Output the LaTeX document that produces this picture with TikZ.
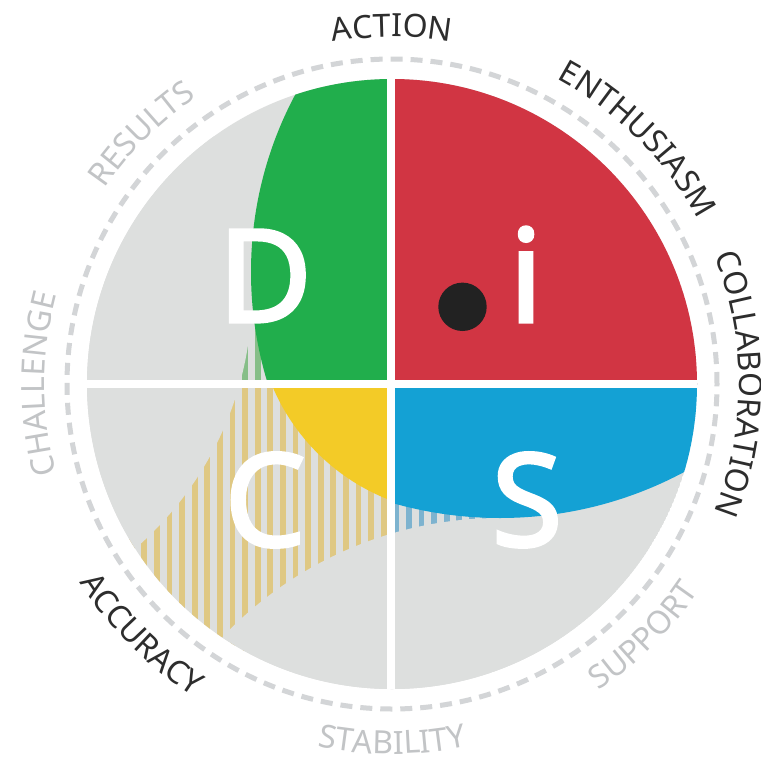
\documentclass[tikz,border=0pt]{standalone}
\usepackage{fontspec}
\setmainfont{Noto Sans}
\newfontfamily\bigfam[FakeBold=2.5]{Noto Sans}
\usetikzlibrary{decorations.text}
\definecolor{diskgray}{HTML}{DDDFDE}
\definecolor{dgreen}{HTML}{21AE4C}
\definecolor{dred}{HTML}{D13543}
\definecolor{dyellow}{HTML}{F3CB27}
\definecolor{dblue}{HTML}{14A1D4}
\definecolor{sgreen}{HTML}{86BE88}
\definecolor{syellow}{HTML}{DFC883}
\definecolor{sblue}{HTML}{7DB3CF}
\definecolor{dashgray}{HTML}{D3D5D7}
\definecolor{lbldark}{HTML}{2D2D2D}
\definecolor{lblgray}{HTML}{C2C4C6}
\definecolor{dotblack}{HTML}{222222}
\newcommand\lblfont{\fontsize{32}{38}\selectfont}
\newcommand\bigletterfont{\bigfam\fontsize{129}{150}\selectfont}
\newcommand\cwlabel[3]{%
  \path[decorate,decoration={text along path,text align=center,text color=#3,
    text format delimiters={|}{|},text={|\lblfont|#2}}]
    (C) ++(#1+60:347pt) arc[start angle=#1+60,end angle=#1-60,radius=347pt];}
\newcommand\ccwlabel[3]{%
  \path[decorate,decoration={text along path,text align=center,text color=#3,
    text format delimiters={|}{|},text={|\lblfont|#2}}]
    (C) ++(#1-60:370pt) arc[start angle=#1-60,end angle=#1+60,radius=370pt];}
\newcommand\stripes[1]{%
  \foreach \k in {0,...,52} {\fill[#1] ({103.5+12.6*\k},0) rectangle ++(5.8,-764);}}
\tikzset{
  bigletter/.style={text=white,font=\bigletterfont,inner sep=0pt,anchor=base},
  divider/.style={draw=white,line width=7.8pt},
}
\begin{document}
\begin{tikzpicture}[x=1pt,y=1pt]
\useasboundingbox (0,0) rectangle (761,-764);
\fill[white] (0,0) rectangle (761,-764);
\coordinate (C) at (392,-384);
% dashed ring
\draw[dashgray,line width=5pt,dash pattern=on 12pt off 8pt] (C) circle[radius=325pt];
\begin{scope}
  \clip (C) circle[radius=305pt];
  \fill[diskgray] (C) circle[radius=305pt];
  % stripes
  \begin{scope}
    \clip (252,-295) -- (110,-570) -- (225,-660) -- (498,-530) -- (498,-490)
      -- (400,-420) -- (330,-400) -- (330,-370) -- cycle;
    \begin{scope}\clip (0,-384) rectangle (391,0); \stripes{sgreen}\end{scope}
    \begin{scope}\clip (0,-384) rectangle (391,-764); \stripes{syellow}\end{scope}
    \begin{scope}\clip (391,-384) rectangle (761,-764); \stripes{sblue}\end{scope}
  \end{scope}
  % gray lobes
  \fill[diskgray] (-86,-293) circle[radius=338pt];
  \fill[diskgray] (500,-901) circle[radius=383pt];
  % coloured regions
  \begin{scope}\clip (0,-384) rectangle (391,0);
    \fill[dgreen] (628,-272) circle[radius=377pt];\end{scope}
  \fill[dred] (391,-384) rectangle (761,0);
  \begin{scope}\clip (0,-384) rectangle (391,-764);
    \fill[dyellow] (465,-305) circle[radius=209pt];\end{scope}
  \begin{scope}\clip (391,-384) rectangle (761,-764);
    \fill[dblue] (500,-127) circle[radius=391pt];\end{scope}
  % dividers
  \coordinate (vt) at (390.6,-60);
  \coordinate (vb) at (390.6,-710);
  \coordinate (hl) at (70,-384);
  \coordinate (hr) at (720,-384);
  \draw[divider] (vt) -- (vb);
  \draw[divider] (hl) -- (hr);
\end{scope}
% letters
\node[bigletter] (D) at (265,-322) {D};
\node[bigletter] (I) at (526,-322) {i};
\node[bigletter] (Cl) at (265,-546) {C};
\node[bigletter] (S) at (527,-546) {S};
\fill[dotblack] (462.5,-306.8) circle[radius=24.2pt];
% labels
\cwlabel{90}{ACTION}{lbldark}
\cwlabel{45}{ENTHUSIASM}{lbldark}
\cwlabel{0}{COLLABORATION}{lbldark}
\ccwlabel{-45}{SUPPORT}{lblgray}
\ccwlabel{-90}{STABILITY}{lblgray}
\ccwlabel{-135}{ACCURACY}{lbldark}
\cwlabel{180}{CHALLENGE}{lblgray}
\cwlabel{135}{RESULTS}{lblgray}
\end{tikzpicture}
\end{document}
